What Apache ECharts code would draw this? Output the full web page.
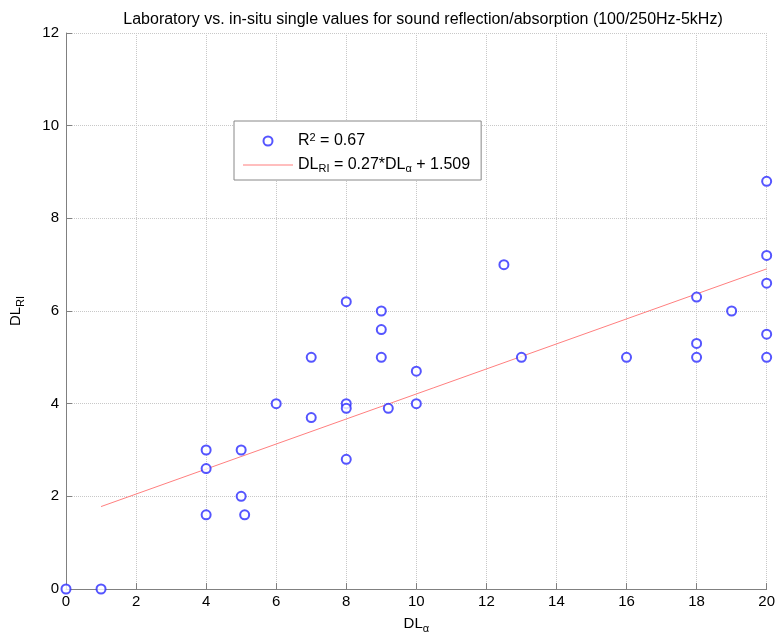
<!DOCTYPE html>
<html>
<head>
<meta charset="UTF-8">
<title>DL scatter</title>
<script src="https://cdn.jsdelivr.net/npm/echarts@6/dist/echarts.min.js"></script>
</head>
<body style="margin:0;background:#fff">
<div id="main" style="width:778px;height:639px;"></div>
<script>
// measured points: DL_alpha (lab) vs DL_RI (in-situ)
var dlAlpha = [0, 1, 4, 4, 4, 5, 5, 5.1, 6, 7, 7, 8, 8, 8, 8, 9, 9, 9, 9.2, 10, 10, 12.5, 13, 16, 18, 18, 18, 19, 20, 20, 20, 20, 20];
var dlRI    = [0, 0, 1.6, 2.6, 3.0, 2.0, 3.0, 1.6, 4.0, 3.7, 5.0, 6.2, 4.0, 3.9, 2.8, 6.0, 5.6, 5.0, 3.9, 4.7, 4.0, 7.0, 5.0, 5.0, 6.3, 5.3, 5.0, 6.0, 8.8, 7.2, 6.6, 5.5, 5.0];
// fitted line end points
var fitX = [1, 20];
var fitY = [1.779, 6.909];
var xTicks = [0, 2, 4, 6, 8, 10, 12, 14, 16, 18, 20];
var yTicks = [0, 2, 4, 6, 8, 10, 12];

var font = 'Liberation Sans, Arial, sans-serif';
var myChart = echarts.init(document.getElementById('main'));

var pts = dlAlpha.map(function (x, i) { return [x, dlRI[i]]; });
var fit = fitX.map(function (x, i) { return [x, fitY[i]]; });

var option = {
    backgroundColor: '#fff',
    animation: false,
    textStyle: { fontFamily: font },
    title: {
        text: 'Laboratory vs. in-situ single values for sound reflection/absorption (100/250Hz-5kHz)',
        left: 418, top: 7, textAlign: 'center',
        textStyle: { fontSize: 16, fontWeight: 'normal', color: '#000', fontFamily: font }
    },
    grid: { left: 66, right: 9, top: 33, bottom: 50 },
    legend: {
        orient: 'vertical',
        left: 234, top: 121,
        padding: [11, 11, 6, 9],
        itemGap: 0,
        itemWidth: 50, itemHeight: 9,
        backgroundColor: '#fff',
        borderColor: '#888', borderWidth: 1, borderRadius: 0,
        data: [
            { name: 'r2', icon: 'emptyCircle' },
            { name: 'fit', icon: 'path://M0,0 L50,0 L50,1 L0,1 Z' }
        ],
        formatter: function (name) {
            if (name === 'r2') return 'R{sup|2} = 0.67';
            return 'DL{sub|RI} = 0.27*DL{sub|α} + 1.509';
        },
        textStyle: {
            fontSize: 16, color: '#000', fontFamily: font, lineHeight: 18,
            rich: {
                sup: { fontSize: 11, lineHeight: 18, verticalAlign: 'top', padding: [0, 0, 9, 0] },
                sub: { fontSize: 11, lineHeight: 18, verticalAlign: 'bottom', padding: [11, 0, 0, 0] }
            }
        }
    },
    xAxis: {
        type: 'value', min: 0, max: 20, interval: 2,
        name: 'DL{sub|α}', nameLocation: 'middle', nameGap: 24,
        nameTextStyle: { fontSize: 15, color: '#000', rich: { sub: { fontSize: 11, verticalAlign: 'bottom', padding: [10, 0, 0, 0] } } },
        axisLine: { lineStyle: { color: '#808080' } },
        axisTick: { inside: true, length: 6, lineStyle: { color: '#808080' } },
        axisLabel: { fontSize: 15, color: '#000', margin: 5 },
        splitLine: { show: true, lineStyle: { color: '#c8c8c8', type: [1, 1] } }
    },
    yAxis: {
        type: 'value', min: 0, max: 12, interval: 2,
        name: 'DL{sub|RI}', nameLocation: 'middle', nameGap: 40, nameRotate: 90,
        nameTextStyle: { fontSize: 15, color: '#000', rich: { sub: { fontSize: 11, verticalAlign: 'bottom', padding: [10, 0, 0, 0] } } },
        axisLine: { show: true, lineStyle: { color: '#808080' } },
        axisTick: { show: true, inside: true, length: 6, lineStyle: { color: '#808080' } },
        axisLabel: { fontSize: 15, color: '#000', margin: 7 },
        splitLine: { show: true, lineStyle: { color: '#c8c8c8', type: [1, 1] } }
    },
    series: [
        {
            name: 'r2', type: 'scatter', data: pts, clip: false,
            symbol: 'emptyCircle', symbolSize: 9,
            itemStyle: { color: '#2b2bff', borderColor: '#2b2bff', borderWidth: 1.6 },
            z: 3
        },
        {
            name: 'fit', type: 'line', data: fit, symbol: 'none',
            lineStyle: { color: '#ff7f7f', width: 1 },
            itemStyle: { color: '#ff7f7f' },
            z: 2
        }
    ]
};
myChart.setOption(option);
</script>
</body>
</html>
